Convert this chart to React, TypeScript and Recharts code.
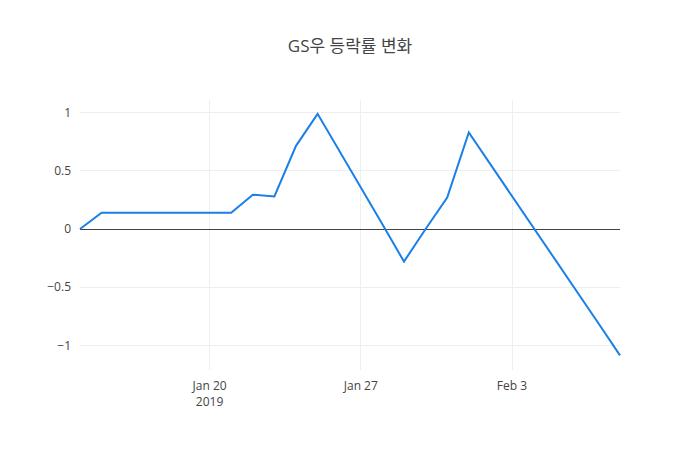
import React from "react";
import {
  LineChart,
  Line,
  XAxis,
  YAxis,
  ReferenceLine,
} from "recharts";

// Trading days (KST) and daily change rate of GS우
const dates = [
  "2019-01-14", "2019-01-15", "2019-01-16", "2019-01-17", "2019-01-18",
  "2019-01-21", "2019-01-22", "2019-01-23", "2019-01-24", "2019-01-25",
  "2019-01-28", "2019-01-29", "2019-01-30", "2019-01-31", "2019-02-01",
  "2019-02-07", "2019-02-08",
];
const changeRates = [
  0, 0.14, 0.14, 0.14, 0.14,
  0.14, 0.295, 0.28, 0.715, 0.99,
  0.04, -0.28, 0, 0.27, 0.83,
  -0.81, -1.086,
];
const xTickDates = ["2019-01-20", "2019-01-27", "2019-02-03"];
const xTickLabels = [["Jan 20", "2019"], ["Jan 27"], ["Feb 3"]];
const yTicks = [-1, -0.5, 0, 0.5, 1];

const toTime = (d: string) => {
  const [y, m, day] = d.split("-").map(Number);
  return Date.UTC(y, m - 1, day);
};

const chartData = dates.map((d, i) => ({ t: toTime(d), value: changeRates[i] }));
const xTicks = xTickDates.map(toTime);

const colors = {
  text: "#444",
  grid: "#eee",
  zero: "#444",
  line: "#1a7fe6",
};
const font = '"Open Sans", "Noto Sans CJK KR", sans-serif';

function XTick(props: any) {
  const { x, y, payload } = props;
  const idx = xTicks.indexOf(payload.value);
  const lines = idx >= 0 ? xTickLabels[idx] : [];
  return (
    <g>
      {lines.map((s, i) => (
        <text
          key={i}
          x={x}
          y={y + 12 + i * 16}
          textAnchor="middle"
          fill={colors.text}
          fontSize={12}
          fontFamily={font}
        >
          {s}
        </text>
      ))}
    </g>
  );
}

const fmtY = (v: number) => (v < 0 ? "\u2212" + String(-v) : String(v));

export default function App() {
  return (
    <div style={{ width: 700, height: 450, background: "#fff", position: "relative" }}>
      <style>{`body{margin:0}`}</style>
      <div
        style={{
          position: "absolute",
          top: 32,
          left: 0,
          width: 700,
          textAlign: "center",
          fontFamily: font,
          fontSize: 17,
          color: colors.text,
        }}
      >
        GS우 등락률 변화
      </div>
      <LineChart
        width={700}
        height={450}
        data={chartData}
        margin={{ top: 100, right: 80, bottom: 30, left: 30 }}
      >
        <XAxis
          dataKey="t"
          type="number"
          scale="time"
          domain={[toTime(dates[0]), toTime(dates[dates.length - 1])]}
          ticks={xTicks}
          axisLine={false}
          tickLine={false}
          height={50}
          tick={<XTick />}
          interval={0}
        />
        <YAxis
          type="number"
          domain={[-1.212, 1.109]}
          ticks={yTicks}
          axisLine={false}
          tickLine={false}
          width={50}
          interval={0}
          tickFormatter={fmtY}
          tick={{ fill: colors.text, fontSize: 12, fontFamily: font, dx: -1 }}
          tickMargin={2}
        />
        {xTicks.map((t) => (
          <ReferenceLine key={"x" + t} x={t} stroke={colors.grid} strokeWidth={1} shapeRendering="crispEdges" />
        ))}
        {yTicks
          .filter((v) => v !== 0)
          .map((v) => (
            <ReferenceLine key={"y" + v} y={v} stroke={colors.grid} strokeWidth={1} shapeRendering="crispEdges" />
          ))}
        <ReferenceLine y={0} stroke={colors.zero} strokeWidth={1} shapeRendering="crispEdges" />
        <Line
          type="linear"
          dataKey="value"
          stroke={colors.line}
          strokeWidth={2}
          dot={false}
          isAnimationActive={false}
        />
      </LineChart>
    </div>
  );
}
